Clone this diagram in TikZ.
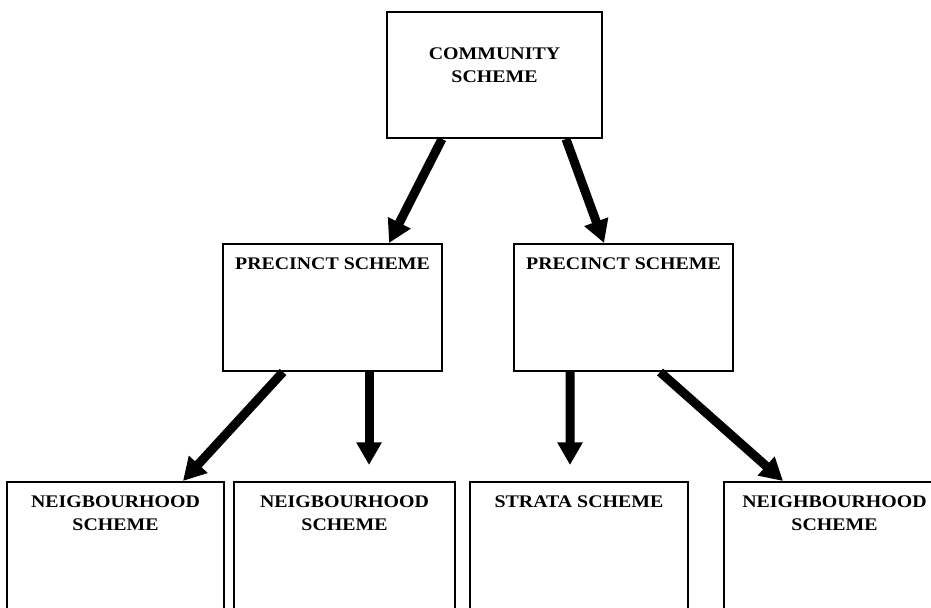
\documentclass[tikz,border=0pt]{standalone}
\usepackage{fontspec}
\setmainfont{Liberation Serif}[FakeStretch=1.12]
\usetikzlibrary{arrows.meta}
\tikzset{
  box/.style={draw, line width=1.5pt, inner sep=0pt},
  lbl/.style={font=\bfseries\fontsize{13.3}{17.6}\selectfont, align=center, inner sep=0pt, anchor=north},
  link/.style={line width=6.75pt, -{Triangle[width=18pt,length=17pt]}}
}
\begin{document}
\begin{tikzpicture}[x=0.75pt,y=-0.75pt]
\useasboundingbox (0,0) rectangle (931,607);
\clip (0,0) rectangle (931,607);
% boxes
\node[box, minimum width=161.25pt, minimum height=94.5pt] (cs) at (494.5,75) {};
\node[box, minimum width=164.25pt, minimum height=95.25pt] (pp1) at (332.5,307.5) {};
\node[box, minimum width=164.25pt, minimum height=95.25pt] (pp2) at (623.5,307.5) {};
\node[box, minimum width=162.75pt, minimum height=105pt] (nb1) at (115.5,552) {};
\node[box, minimum width=165.75pt, minimum height=105pt] (nb2) at (344.5,552) {};
\node[box, minimum width=163.5pt, minimum height=105pt] (ss) at (579,552) {};
\node[box, minimum width=165.75pt, minimum height=105pt] (nb4) at (834.5,552) {};
% labels
\node[lbl] (csT) at ([yshift=-27pt]cs.north) {COMMUNITY\\SCHEME};
\node[lbl] (pp1T) at ([yshift=-10.5pt]pp1.north) {PRECINCT SCHEME};
\node[lbl] (pp2T) at ([yshift=-10.5pt]pp2.north) {PRECINCT SCHEME};
\node[lbl] (nb1T) at ([yshift=-10.5pt]nb1.north) {NEIGBOURHOOD\\SCHEME};
\node[lbl] (nb2T) at ([yshift=-10.5pt]nb2.north) {NEIGBOURHOOD\\SCHEME};
\node[lbl] (ssT) at ([yshift=-10.5pt]ss.north) {STRATA SCHEME};
\node[lbl] (nb4T) at ([yshift=-10.5pt]nb4.north) {NEIGHBOURHOOD\\SCHEME};
% arrows
\draw[link] ([xshift=-39.4pt]cs.south) -- ([xshift=42.4pt]pp1.north);
\draw[link] ([xshift=53.6pt]cs.south) -- ([xshift=-14.6pt]pp2.north);
\draw[link] ([xshift=-37.1pt]pp1.south) -- ([xshift=50.6pt]nb1.north);
\draw[link, shorten >=12pt] ([xshift=27.4pt]pp1.south) -- ([xshift=18.4pt]nb2.north);
\draw[link, shorten >=12pt] ([xshift=-40.1pt]pp2.south) -- ([xshift=-6.75pt]ss.north);
\draw[link] ([xshift=27.4pt]pp2.south) -- ([xshift=-38.6pt]nb4.north);
\end{tikzpicture}
\end{document}
